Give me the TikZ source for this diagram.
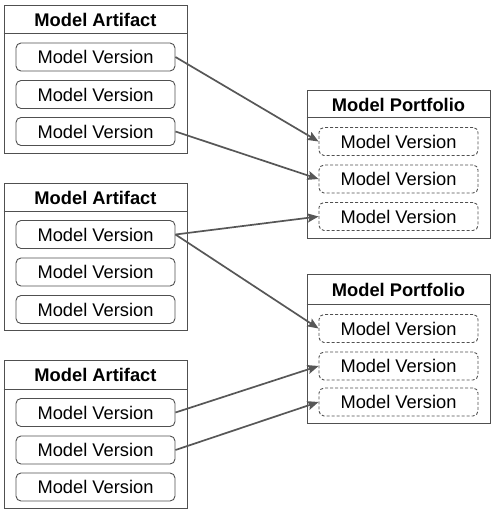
\documentclass[tikz,border=0pt]{standalone}
\usepackage{fontspec}
\setmainfont{Liberation Sans}
\usetikzlibrary{arrows.meta}
\definecolor{linec}{HTML}{505050}
\definecolor{arrc}{HTML}{575757}
\tikzset{
  outerbox/.style={draw=linec, line width=1pt, minimum width=183pt, inner sep=0pt, anchor=north},
  verbox/.style={draw=linec, line width=0.9pt, rounded corners=5pt, minimum width=159pt, minimum height=28pt, inner sep=0pt, font=\fontsize{18.3}{22}\selectfont},
  pverbox/.style={verbox, dash pattern=on 3pt off 2pt},
  ttl/.style={inner sep=0pt, font=\fontsize{18.3}{22}\selectfont\bfseries},
  divider/.style={draw=linec, line width=1pt},
  link/.style={draw=arrc, line width=1.7pt, -{Stealth[length=11pt,width=9pt,inset=2pt]}}
}
\begin{document}
\begin{tikzpicture}[x=1pt,y=-1pt]
\useasboundingbox (0,0) rectangle (496,513);
% Artifact 1
\node[outerbox, minimum height=148pt] (a1) at (95.5,5) {};
\draw[divider] ([yshift=-29pt]a1.north west) -- ([yshift=-29pt]a1.north east);
\node[ttl] (a1t) at (95.5,20) {Model Artifact};
\node[verbox] (a1v1) at (95.5,57) {Model Version};
\node[verbox] (a1v2) at (95.5,94.5) {Model Version};
\node[verbox] (a1v3) at (95.5,131.5) {Model Version};
% Artifact 2
\node[outerbox, minimum height=147pt] (a2) at (95.5,183) {};
\draw[divider] ([yshift=-28pt]a2.north west) -- ([yshift=-28pt]a2.north east);
\node[ttl] (a2t) at (95.5,197.5) {Model Artifact};
\node[verbox] (a2v1) at (95.5,234.5) {Model Version};
\node[verbox] (a2v2) at (95.5,272) {Model Version};
\node[verbox] (a2v3) at (95.5,309.5) {Model Version};
% Artifact 3
\node[outerbox, minimum height=148pt] (a3) at (95.5,360) {};
\draw[divider] ([yshift=-29pt]a3.north west) -- ([yshift=-29pt]a3.north east);
\node[ttl] (a3t) at (95.5,375) {Model Artifact};
\node[verbox] (a3v1) at (95.5,412.5) {Model Version};
\node[verbox] (a3v2) at (95.5,450) {Model Version};
\node[verbox] (a3v3) at (95.5,487) {Model Version};
% Portfolio 1
\node[outerbox, minimum height=148pt] (p1) at (398.5,90) {};
\draw[divider] ([yshift=-28pt]p1.north west) -- ([yshift=-28pt]p1.north east);
\node[ttl] (p1t) at (398.5,104.5) {Model Portfolio};
\node[pverbox] (p1v1) at (398.5,141.5) {Model Version};
\node[pverbox] (p1v2) at (398.5,179) {Model Version};
\node[pverbox] (p1v3) at (398.5,216.5) {Model Version};
% Portfolio 2
\node[outerbox, minimum height=149pt] (p2) at (398.5,274) {};
\draw[divider] ([yshift=-30pt]p2.north west) -- ([yshift=-30pt]p2.north east);
\node[ttl] (p2t) at (398.5,289.5) {Model Portfolio};
\node[pverbox] (p2v1) at (398.5,328.5) {Model Version};
\node[pverbox] (p2v2) at (398.5,366) {Model Version};
\node[pverbox] (p2v3) at (398.5,402) {Model Version};
% Links
\draw[link] (a1v1.east) -- (p1v1.west);
\draw[link] (a1v3.east) -- (p1v2.west);
\draw[link] (a2v1.east) -- (p1v3.west);
\draw[link] (a2v1.east) -- (p2v1.west);
\draw[link] (a3v1.east) -- (p2v2.west);
\draw[link] (a3v2.east) -- (p2v3.west);
\end{tikzpicture}
\end{document}
